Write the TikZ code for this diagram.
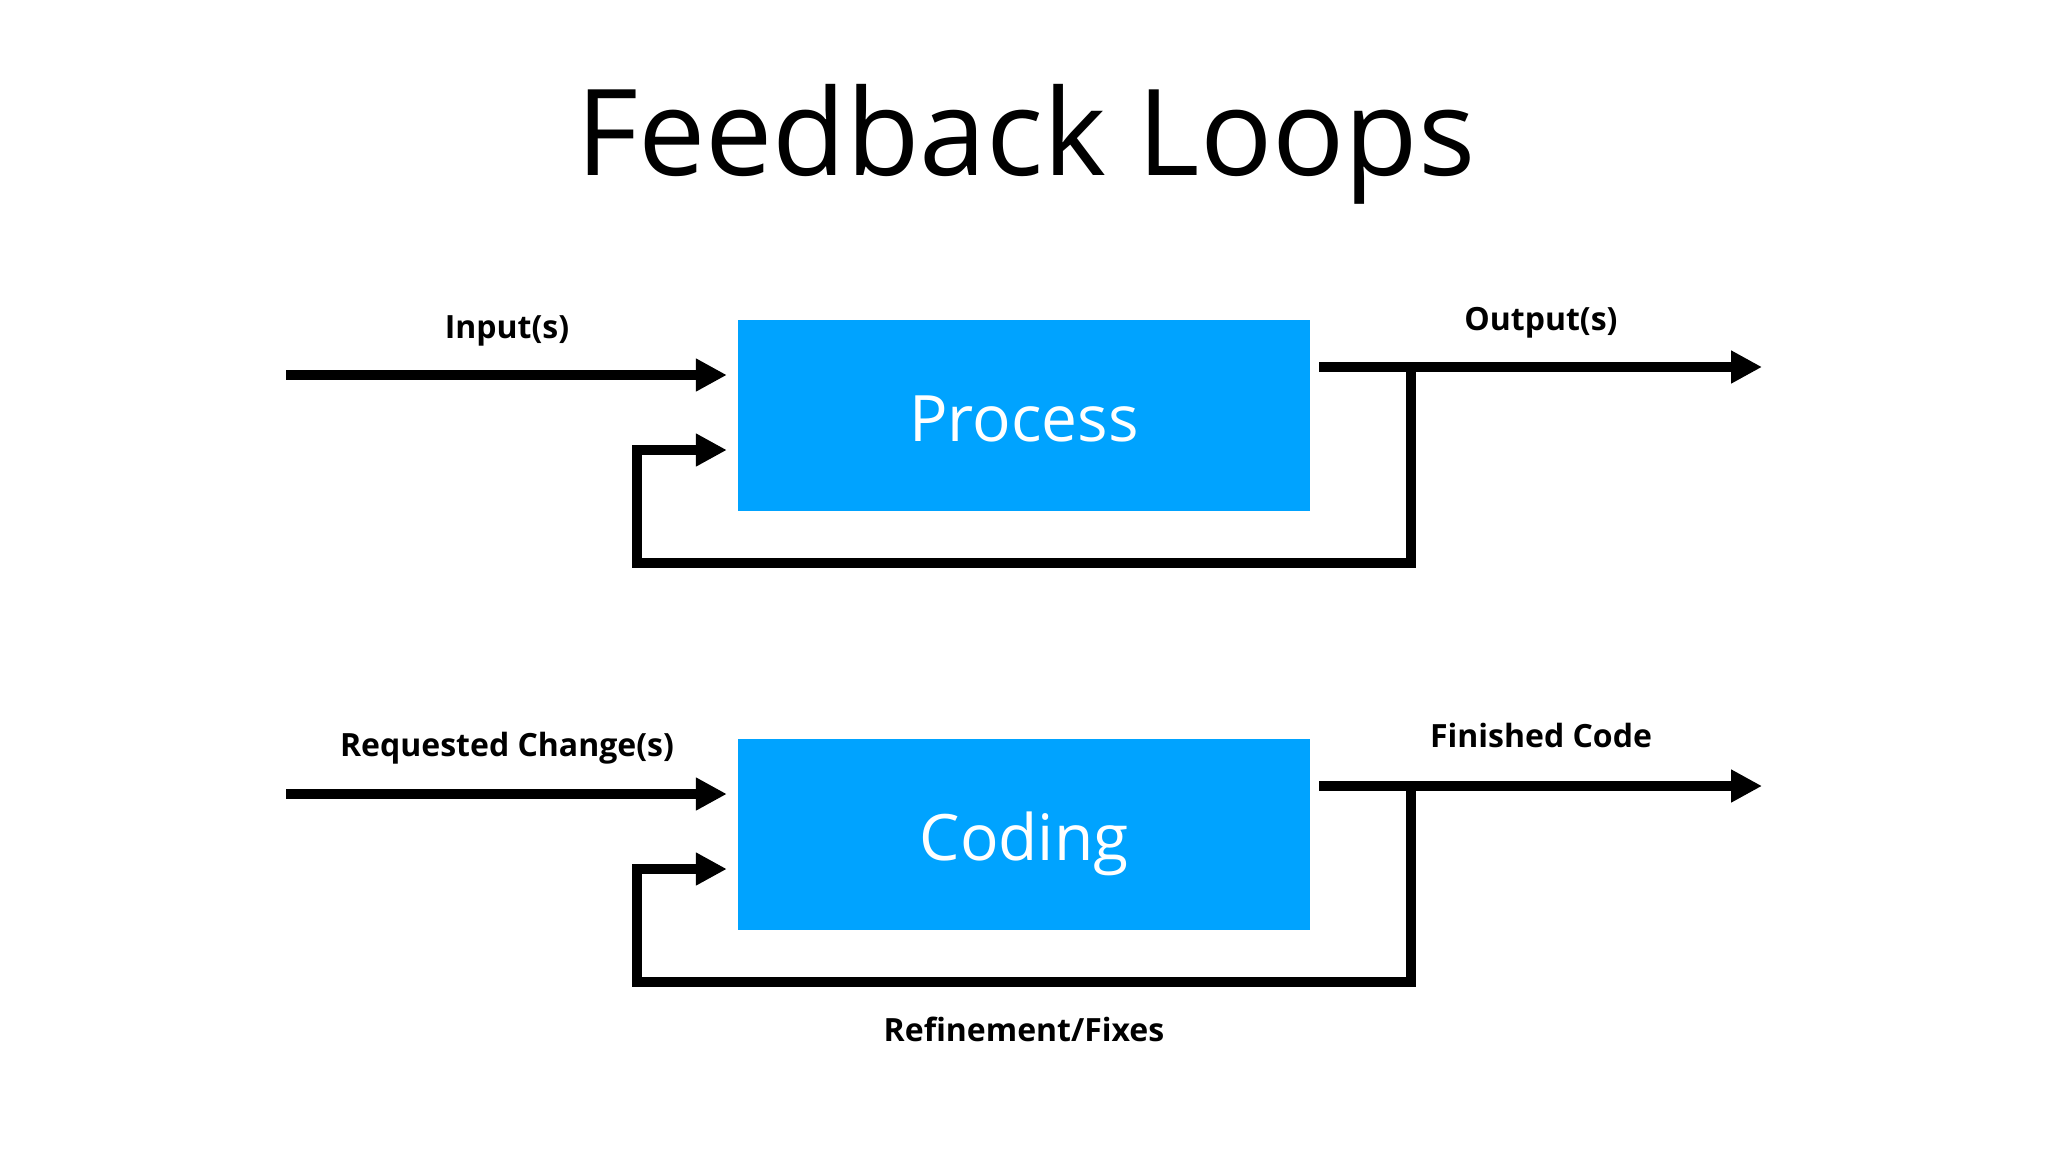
\documentclass[tikz,border=0pt]{standalone}
\usepackage{fontspec}
\setmainfont{Open Sans}
\usetikzlibrary{arrows.meta,positioning}
\definecolor{boxblue}{HTML}{00A3FF}

\begin{document}
\begin{tikzpicture}[x=1pt, y=-1pt,
    box/.style = {fill=boxblue, minimum width=572pt, minimum height=191pt, inner sep=0pt,
                  text=white, text height=52pt, text depth=0pt, font=\fontsize{64}{64}\selectfont},
    lbl/.style = {anchor=base, inner sep=0pt, font=\fontsize{32}{32}\selectfont\bfseries},
    flow/.style = {line width=10pt, -{Triangle[length=31pt,width=31pt]}},
    back/.style = {line width=10pt}]
\useasboundingbox (0,0) rectangle (2048,1152);
\node[anchor=base, inner sep=0pt, font=\fontsize{120}{120}\selectfont] (title) at (1026,175) {Feedback Loops};

% the two blocks
\node[box] (proc) at (1024,415.5) {Process};
\node[box] (code) [below=228pt of proc] {Coding};

% labels
\node[lbl] (inlbl) at (507,338) {Input(s)};
\node[lbl] (outlbl) at (1541,330) {Output(s)};
\node[lbl] (reqlbl) at (507,756) {Requested Change(s)};
\node[lbl] (donelbl) at (1541,747) {Finished Code};
\node[lbl] (fixlbl) at (1024,1041) {Refinement/Fixes};

% top loop
\coordinate (in1) at (286,375);
\coordinate (out1) at (1762,367);
\coordinate (split1) at (1411,367);
\coordinate (low1) at (0,563);
\coordinate (fb1) at (637,450);
\draw[flow, shorten >=11pt] (in1) -- (in1 -| proc.west);
\draw[flow] ([xshift=9pt]proc.east |- out1) -- (out1);
\draw[flow, shorten >=11pt] (split1) -- (split1 |- low1) -| (fb1) -- (fb1 -| proc.west);

% bottom loop
\coordinate (in2) at (286,794);
\coordinate (out2) at (1762,786);
\coordinate (split2) at (1411,786);
\coordinate (low2) at (0,982);
\coordinate (fb2) at (637,869);
\draw[flow, shorten >=11pt] (in2) -- (in2 -| code.west);
\draw[flow] ([xshift=9pt]code.east |- out2) -- (out2);
\draw[flow, shorten >=11pt] (split2) -- (split2 |- low2) -| (fb2) -- (fb2 -| code.west);
\end{tikzpicture}
\end{document}
